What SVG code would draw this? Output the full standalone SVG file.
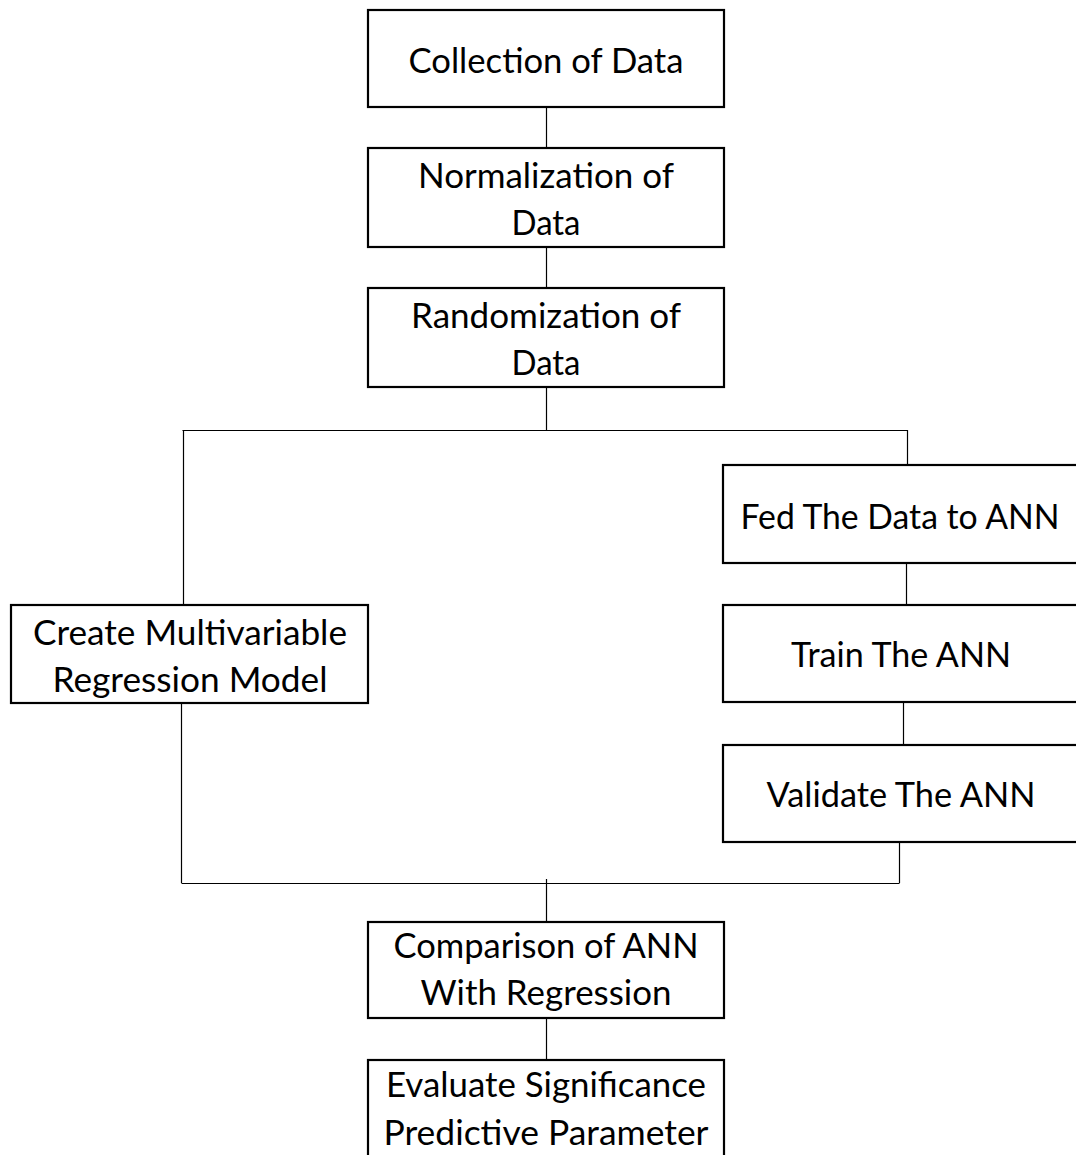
<svg xmlns="http://www.w3.org/2000/svg" width="1076" height="1155" viewBox="0 0 1076 1155">
  <style>
    .box { fill: #ffffff; stroke: #000000; stroke-width: 2.2; }
    .wire { fill: none; stroke: #000000; stroke-width: 1.2; }
    .label { font-family: Lato, "Open Sans", "Liberation Sans", sans-serif; font-size: 35px; fill: #000000; text-anchor: middle; }
  </style>
  <rect width="1076" height="1155" fill="#ffffff"/>

  <!-- connectors -->
  <g id="connectors">
    <path class="wire" d="M546.5 107 V148"/>
    <path class="wire" d="M546.5 247 V288"/>
    <path class="wire" d="M546.5 387 V430"/>
    <path class="wire" d="M182.5 430.5 H907.5"/>
    <path class="wire" d="M183.5 430 V605"/>
    <path class="wire" d="M907.5 430 V465"/>
    <path class="wire" d="M906.5 563 V605"/>
    <path class="wire" d="M903.5 702 V745"/>
    <path class="wire" d="M899.5 842 V883"/>
    <path class="wire" d="M181.5 703 V883"/>
    <path class="wire" d="M181.5 883.5 H899.5"/>
    <path class="wire" d="M546.5 879 V922"/>
    <path class="wire" d="M546.5 1018 V1060"/>
  </g>

  <g id="collection">
    <rect class="box" x="368" y="10" width="356" height="97"/>
    <text class="label" x="546" y="73" textLength="275" lengthAdjust="spacingAndGlyphs">Collection of Data</text>
  </g>

  <g id="normalization">
    <rect class="box" x="368" y="148" width="356" height="99"/>
    <text class="label" x="546" y="188" textLength="256" lengthAdjust="spacingAndGlyphs">Normalization of</text>
    <text class="label" x="546" y="235" textLength="69" lengthAdjust="spacingAndGlyphs">Data</text>
  </g>

  <g id="randomization">
    <rect class="box" x="368" y="288" width="356" height="99"/>
    <text class="label" x="546" y="328" textLength="270" lengthAdjust="spacingAndGlyphs">Randomization of</text>
    <text class="label" x="546" y="375" textLength="69" lengthAdjust="spacingAndGlyphs">Data</text>
  </g>

  <g id="feed-ann">
    <rect class="box" x="723" y="465" width="380" height="98"/>
    <text class="label" x="900" y="529" textLength="319" lengthAdjust="spacingAndGlyphs">Fed The Data to ANN</text>
  </g>

  <g id="regression-model">
    <rect class="box" x="11" y="605" width="357" height="98"/>
    <text class="label" x="190" y="645" textLength="314" lengthAdjust="spacingAndGlyphs">Create Multivariable</text>
    <text class="label" x="190" y="692" textLength="275" lengthAdjust="spacingAndGlyphs">Regression Model</text>
  </g>

  <g id="train-ann">
    <rect class="box" x="723" y="605" width="380" height="97"/>
    <text class="label" x="901" y="667" textLength="220" lengthAdjust="spacingAndGlyphs">Train The ANN</text>
  </g>

  <g id="validate-ann">
    <rect class="box" x="723" y="745" width="380" height="97"/>
    <text class="label" x="901" y="807" textLength="269" lengthAdjust="spacingAndGlyphs">Validate The ANN</text>
  </g>

  <g id="comparison">
    <rect class="box" x="368" y="922" width="356" height="96"/>
    <text class="label" x="546" y="958" textLength="305" lengthAdjust="spacingAndGlyphs">Comparison of ANN</text>
    <text class="label" x="546" y="1005" textLength="251" lengthAdjust="spacingAndGlyphs">With Regression</text>
  </g>

  <g id="evaluate">
    <rect class="box" x="368" y="1060" width="356" height="120"/>
    <text class="label" x="546" y="1097" textLength="320" lengthAdjust="spacingAndGlyphs">Evaluate Significance</text>
    <text class="label" x="546" y="1145" textLength="325" lengthAdjust="spacingAndGlyphs">Predictive Parameter</text>
  </g>
</svg>
